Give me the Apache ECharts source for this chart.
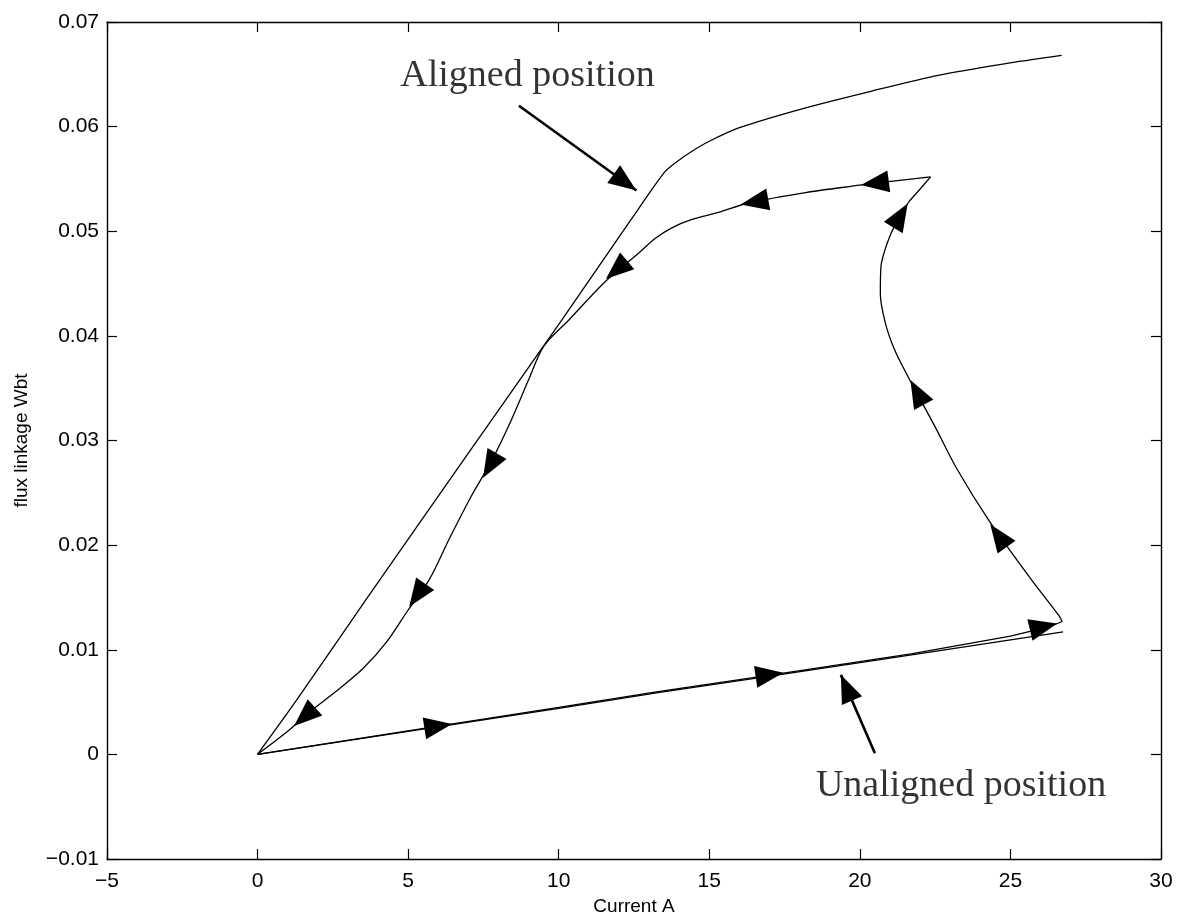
<!DOCTYPE html>
<html><head><meta charset="utf-8">
<script src="https://cdn.jsdelivr.net/npm/echarts@6/dist/echarts.min.js"></script>
<style>html,body{margin:0;padding:0;background:#fff}#c{width:1178px;height:923px}</style>
</head><body><div id="c"></div>
<script>
// ---- data ----
const xTicks = [-5, 0, 5, 10, 15, 20, 25, 30];
const yTicks = [-0.01, 0, 0.01, 0.02, 0.03, 0.04, 0.05, 0.06, 0.07];
const xTickLabels = ['\u22125', '0', '5', '10', '15', '20', '25', '30'];
const yTickLabels = ['\u22120.01', '0', '0.01', '0.02', '0.03', '0.04', '0.05', '0.06', '0.07'];
const xTitle = 'Current A';
const yTitle = 'flux linkage Wbt';

// aligned-position magnetisation curve
const alignedCurve = [[0,0],[1.3,0.0052],[3.6,0.0148],[7.0,0.0288],[10.1,0.0415],[12.4,0.0511],[13.5,0.0556],
  [13.9,0.0566],[14.4,0.0576],[15.0,0.0586],[16.0,0.0599],[18.2,0.0618],[20.4,0.0634],[22.6,0.0649],[24.8,0.0660],[26.7,0.0668]];
// unaligned-position magnetisation curve
const unalignedCurve = [[0,0],[10.0,0.0044],[13.3,0.0059],[17.3,0.0076],[22.6,0.0099],[26.75,0.0117]];
// energy-conversion loop, in the order it is travelled, split at its sharp corners
const loopBottom = [[0,0],[6.0,0.0027],[10.0,0.0045],[13.3,0.0060],[17.3,0.0077],[21.7,0.0096],[25.0,0.0113],[26.3,0.0122],[26.72,0.0127]];
const loopRight = [[26.72,0.0127],[26.6,0.0133],[25.67,0.0168],[24.3,0.0223],[23.2,0.0274],[22.5,0.0313],[21.6,0.0361],[21.15,0.0387],
  [20.85,0.0412],[20.68,0.0440],[20.7,0.0466],[20.9,0.0488],[21.2,0.0508],[21.6,0.0527],[21.9,0.0537],[22.35,0.0552]];
const loopTop = [[22.35,0.0552],[20.8,0.0547],[20.0,0.0544],[18.2,0.0537],[16.3,0.0527],[15.3,0.0518],[14.4,0.0511],[13.74,0.0503],
  [13.2,0.0493],[12.65,0.0479],[11.55,0.0452],[10.33,0.0415],[9.5,0.0390],[9.0,0.0358],[8.4,0.0318],[7.78,0.0281],[7.1,0.0247],
  [6.4,0.0208],[5.7,0.0167],[5.0,0.0138],[4.3,0.0108],[3.5,0.0082],[2.6,0.0060],[1.7,0.0040],[1.0,0.0022],[0,0]];
// arrowheads along the loop (centres)
const loopArrows = [[6.0,0.0027],[17.0,0.0076],[26.1,0.0122],[24.6,0.0209],[21.9,0.0346],[21.35,0.0515],
  [20.5,0.0546],[16.5,0.0528],[11.92,0.0463],[7.72,0.0276],[5.3,0.0152],[1.56,0.0036]];
// annotation arrows: [start, tip]
const annotationArrows = [[[8.68,0.0620],[12.58,0.0539]], [[20.5,0.0001],[19.37,0.0076]]];
// annotation texts: [x of left edge, y of middle, text]
const annotationTexts = [[4.74,0.0648,'Aligned position'], [18.54,-0.0030,'Unaligned position']];

// ---- chart ----
const SANS = '"Liberation Sans", Arial, Helvetica, sans-serif';
const SERIF = '"Liberation Serif", "Times New Roman", serif';
const chart = echarts.init(document.getElementById('c'), null, {renderer: 'canvas'});

function lookup(ticks, labels, v) {
  for (let i = 0; i < ticks.length; i++) if (Math.abs(ticks[i] - v) < 1e-9) return labels[i];
  return '';
}
const axisLineStyle = {color: '#000', width: 1.4};
function xAxisDef(pos, main) {
  return {
    type: 'value', position: pos, min: xTicks[0], max: xTicks[xTicks.length - 1], interval: xTicks[1] - xTicks[0],
    axisLine: {show: true, onZero: false, lineStyle: axisLineStyle},
    axisTick: {show: true, inside: true, length: 10, lineStyle: {color: '#000', width: 1.2}},
    axisLabel: {show: main, margin: 12, color: '#000', fontSize: 21, fontFamily: SANS,
      formatter: v => lookup(xTicks, xTickLabels, v)},
    splitLine: {show: false},
    name: main ? xTitle : '', nameLocation: 'middle', nameGap: 37,
    nameTextStyle: {color: '#000', fontSize: 19, fontFamily: SANS}
  };
}
function yAxisDef(pos, main) {
  return {
    type: 'value', position: pos, min: yTicks[0], max: yTicks[yTicks.length - 1], interval: yTicks[1] - yTicks[0],
    axisLine: {show: true, onZero: false, lineStyle: axisLineStyle},
    axisTick: {show: true, inside: true, length: 10, lineStyle: {color: '#000', width: 1.2}},
    axisLabel: {show: main, margin: 8, color: '#000', fontSize: 21, fontFamily: SANS,
      formatter: v => lookup(yTicks, yTickLabels, v)},
    splitLine: {show: false},
    name: main ? yTitle : '', nameLocation: 'middle', nameGap: 76, nameRotate: 90,
    nameTextStyle: {color: '#000', fontSize: 19, fontFamily: SANS}
  };
}
const thinLine = {color: '#000', width: 1.3};
const curve = (id, data, smooth) => ({id, type: 'line', data, smooth, showSymbol: false, symbol: 'none', lineStyle: thinLine, z: 3});
const baseSeries = [
  curve('aligned', alignedCurve, 0.25),
  curve('unaligned', unalignedCurve, false),
  curve('loopBottom', loopBottom, false),
  curve('loopRight', loopRight, 0.3),
  curve('loopTop', loopTop, 0.3),
  {id: 'texts', type: 'scatter', symbolSize: 0, z: 5,
    data: annotationTexts.map(t => ({value: [t[0], t[1]], name: t[2]})),
    label: {show: true, position: 'right', distance: 0, formatter: '{b}', color: '#000', fontSize: 38, fontFamily: SERIF}}
];
annotationArrows.forEach((a, i) => baseSeries.push({
  id: 'ann' + i, type: 'line', data: a, showSymbol: false, symbol: 'none', lineStyle: {color: '#000', width: 2.6}, z: 4
}));

chart.setOption({
  animation: false,
  backgroundColor: '#fff',
  grid: {left: 107, right: 17, top: 22, bottom: 64, containLabel: false, outerBoundsMode: 'none'},
  xAxis: [xAxisDef('bottom', true), xAxisDef('top', false)],
  yAxis: [yAxisDef('left', true), yAxisDef('right', false)],
  series: baseSeries
});

// ---- arrowheads, oriented along the curves in pixel space ----
const toPx = p => chart.convertToPixel({xAxisIndex: 0, yAxisIndex: 0}, p);
const toData = p => chart.convertFromPixel({xAxisIndex: 0, yAxisIndex: 0}, p);
const rotFromDir = (dx, dy) => Math.atan2(-dy, dx) * 180 / Math.PI - 90;
const loopPx = loopBottom.concat(loopRight, loopTop).map(toPx);
function loopDirAt(p) {
  let best = null, bd = Infinity;
  for (let i = 0; i < loopPx.length - 1; i++) {
    const a = loopPx[i], b = loopPx[i + 1];
    const vx = b[0] - a[0], vy = b[1] - a[1];
    const L2 = vx * vx + vy * vy; if (L2 === 0) continue;
    let t = ((p[0] - a[0]) * vx + (p[1] - a[1]) * vy) / L2; t = Math.max(0, Math.min(1, t));
    const qx = a[0] + t * vx - p[0], qy = a[1] + t * vy - p[1];
    const d = qx * qx + qy * qy;
    if (d < bd) { bd = d; best = [vx, vy]; }
  }
  return best;
}
const HEAD_W = 22, HEAD_L = 28;
const heads = loopArrows.map(a => {
  const d = loopDirAt(toPx(a));
  return {pos: a, rot: rotFromDir(d[0], d[1])};
});
annotationArrows.forEach(a => {
  const s = toPx(a[0]), t = toPx(a[1]);
  const dx = t[0] - s[0], dy = t[1] - s[1], L = Math.hypot(dx, dy);
  const c = toData([t[0] - dx / L * HEAD_L / 2, t[1] - dy / L * HEAD_L / 2]);
  heads.push({pos: c, rot: rotFromDir(dx, dy)});
});
chart.setOption({
  series: heads.map((h, i) => ({
    id: 'head' + i, type: 'scatter', symbol: 'triangle', symbolSize: [HEAD_W, HEAD_L], symbolRotate: h.rot, z: 6,
    itemStyle: {color: '#000', opacity: 1}, emphasis: {disabled: true}, data: [h.pos]
  }))
});
</script></body></html>
